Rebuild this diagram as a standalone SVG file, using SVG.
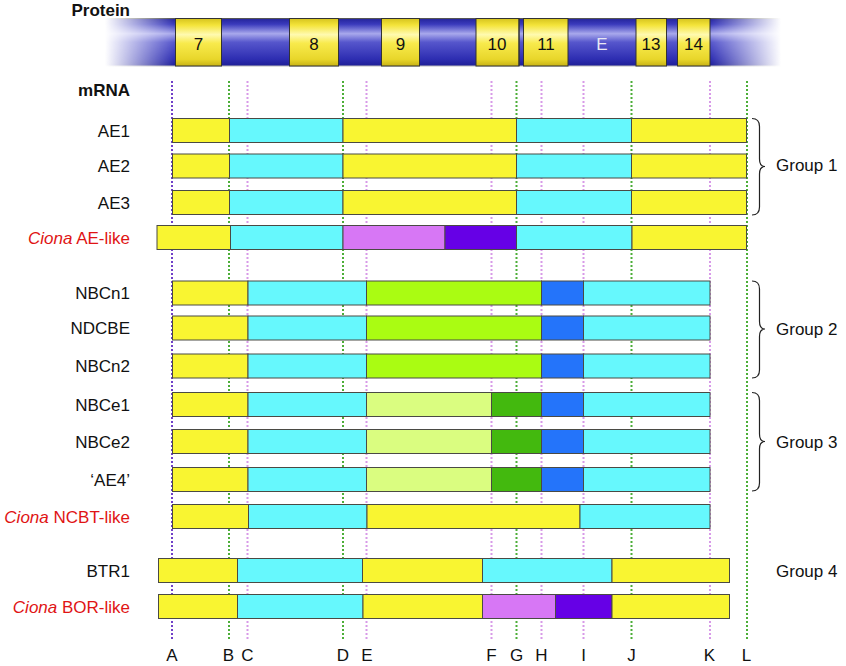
<svg xmlns="http://www.w3.org/2000/svg" width="846" height="666" viewBox="0 0 846 666">
<style>
text{font-family:"Liberation Sans",Arial,sans-serif;font-size:17px;fill:#111}
.lbl{text-anchor:end}
.red{fill:#e01414}
.bold{font-weight:bold}
.ctr{text-anchor:middle}
.seg{stroke:#4a4a44;stroke-width:1}
.y{fill:#f9f531}.c{fill:#66f8fd}.lp{fill:#d777f5}.dp{fill:#6600e6}
.g{fill:#aafc12}.b{fill:#2474fa}.lg{fill:#dafd80}.dg{fill:#43b90e}
.vl{fill:none;stroke-width:2;stroke-dasharray:2 2}
.vg{stroke:#4cae38}.vp{stroke:#d89ae8}.va{stroke:#7040c8}
.brace{fill:none;stroke:#222;stroke-width:1.2}
.ps{stroke:#333;stroke-width:1}
</style>
<defs>
<linearGradient id="blueV" x1="0" y1="0" x2="0" y2="1">
<stop offset="0" stop-color="#24249a"/>
<stop offset="0.12" stop-color="#3a3abc"/>
<stop offset="0.32" stop-color="#a8a8ec"/>
<stop offset="0.5" stop-color="#5656cc"/>
<stop offset="0.85" stop-color="#2e2eb2"/>
<stop offset="1" stop-color="#1e1e96"/>
</linearGradient>
<linearGradient id="yelV" x1="0" y1="0" x2="0" y2="1">
<stop offset="0" stop-color="#d6c41e"/>
<stop offset="0.14" stop-color="#f4e43a"/>
<stop offset="0.34" stop-color="#fffab0"/>
<stop offset="0.52" stop-color="#f8ea4c"/>
<stop offset="0.86" stop-color="#e8d62a"/>
<stop offset="1" stop-color="#c8b216"/>
</linearGradient>
<linearGradient id="fadeH" x1="0" y1="0" x2="1" y2="0">
<stop offset="0" stop-color="#000"/>
<stop offset="0.1036" stop-color="#fff"/>
<stop offset="0.895" stop-color="#fff"/>
<stop offset="1" stop-color="#000"/>
</linearGradient>
<mask id="fade" maskUnits="userSpaceOnUse" x="100" y="10" width="690" height="60">
<rect x="105" y="10" width="676" height="60" fill="url(#fadeH)"/>
</mask>
</defs>
<rect width="846" height="666" fill="#fff"/>

<g id="protein">
<text x="130" y="16" class="lbl bold">Protein</text>
<g mask="url(#fade)">
<rect x="105" y="18.5" width="676" height="47.5" fill="url(#blueV)"/>
<line x1="105" y1="18.5" x2="781" y2="18.5" stroke="#555" stroke-width="1"/>
<line x1="105" y1="66" x2="781" y2="66" stroke="#bbb" stroke-width="1"/>
</g>
<g class="ps">
<rect x="175.5" y="18.5" width="46" height="47.5" fill="url(#yelV)"/>
<rect x="289.5" y="18.5" width="49" height="47.5" fill="url(#yelV)"/>
<rect x="381.5" y="18.5" width="38" height="47.5" fill="url(#yelV)"/>
<rect x="476" y="18.5" width="43" height="47.5" fill="url(#yelV)"/>
<rect x="523.5" y="18.5" width="44.5" height="47.5" fill="url(#yelV)"/>
<rect x="636" y="18.5" width="30.5" height="47.5" fill="url(#yelV)"/>
<rect x="677.5" y="18.5" width="32.5" height="47.5" fill="url(#yelV)"/>
<line x1="519" y1="18.5" x2="519" y2="66"/>
<line x1="523.5" y1="18.5" x2="523.5" y2="66"/>
</g>
<text x="198.5" y="50" class="ctr">7</text>
<text x="314" y="50" class="ctr">8</text>
<text x="400.5" y="50" class="ctr">9</text>
<text x="497" y="50" class="ctr">10</text>
<text x="546" y="50" class="ctr">11</text>
<text x="602" y="50" class="ctr" style="fill:#e8e8f4">E</text>
<text x="651" y="50" class="ctr">13</text>
<text x="693.5" y="50" class="ctr">14</text>
</g>

<text x="130" y="96" class="lbl bold">mRNA</text>

<g id="guides">
<line class="vl va" x1="172" y1="81" x2="172" y2="640"/>
<line class="vl vg" x1="229" y1="81" x2="229" y2="640"/>
<line class="vl vp" x1="247.5" y1="81" x2="247.5" y2="640"/>
<line class="vl vg" x1="343" y1="81" x2="343" y2="640"/>
<line class="vl vp" x1="366.5" y1="81" x2="366.5" y2="640"/>
<line class="vl vp" x1="491.5" y1="81" x2="491.5" y2="640"/>
<line class="vl vg" x1="516.5" y1="81" x2="516.5" y2="640"/>
<line class="vl vp" x1="541.5" y1="81" x2="541.5" y2="640"/>
<line class="vl vp" x1="583.5" y1="81" x2="583.5" y2="640"/>
<line class="vl vg" x1="631.5" y1="81" x2="631.5" y2="640"/>
<line class="vl vp" x1="710" y1="81" x2="710" y2="640"/>
<line class="vl vg" x1="747" y1="81" x2="747" y2="640"/>
</g>

<g id="AE1">
<text x="130" y="136.5" class="lbl">AE1</text>
<g class="seg"><rect class="y" x="172.5" y="118.5" width="57" height="24"/><rect class="c" x="229.5" y="118.5" width="113.5" height="24"/><rect class="y" x="343" y="118.5" width="173.5" height="24"/><rect class="c" x="516.5" y="118.5" width="115" height="24"/><rect class="y" x="631.5" y="118.5" width="115" height="24"/></g>
</g>
<g id="AE2">
<text x="130" y="172" class="lbl">AE2</text>
<g class="seg"><rect class="y" x="172.5" y="154" width="57" height="24"/><rect class="c" x="229.5" y="154" width="113.5" height="24"/><rect class="y" x="343" y="154" width="173.5" height="24"/><rect class="c" x="516.5" y="154" width="115" height="24"/><rect class="y" x="631.5" y="154" width="115" height="24"/></g>
</g>
<g id="AE3">
<text x="130" y="208.5" class="lbl">AE3</text>
<g class="seg"><rect class="y" x="172.5" y="190.5" width="57" height="24"/><rect class="c" x="229.5" y="190.5" width="113.5" height="24"/><rect class="y" x="343" y="190.5" width="173.5" height="24"/><rect class="c" x="516.5" y="190.5" width="115" height="24"/><rect class="y" x="631.5" y="190.5" width="115" height="24"/></g>
</g>
<g id="CionaAE">
<text x="130" y="243.5" class="lbl red"><tspan font-style="italic" class="red">Ciona</tspan> AE-like</text>
<g class="seg"><rect class="y" x="157" y="225.5" width="73.5" height="24"/><rect class="c" x="230.5" y="225.5" width="112.5" height="24"/><rect class="lp" x="343" y="225.5" width="102" height="24"/><rect class="dp" x="445" y="225.5" width="71.5" height="24"/><rect class="c" x="516.5" y="225.5" width="115.5" height="24"/><rect class="y" x="632" y="225.5" width="114.5" height="24"/></g>
</g>

<g id="NBCn1">
<text x="130" y="299" class="lbl">NBCn1</text>
<g class="seg"><rect class="y" x="172.5" y="281" width="75.5" height="24"/><rect class="c" x="248" y="281" width="118.5" height="24"/><rect class="g" x="366.5" y="281" width="175" height="24"/><rect class="b" x="541.5" y="281" width="42" height="24"/><rect class="c" x="583.5" y="281" width="126.5" height="24"/></g>
</g>
<g id="NDCBE">
<text x="130" y="334" class="lbl">NDCBE</text>
<g class="seg"><rect class="y" x="172.5" y="316" width="75.5" height="24"/><rect class="c" x="248" y="316" width="118.5" height="24"/><rect class="g" x="366.5" y="316" width="175" height="24"/><rect class="b" x="541.5" y="316" width="42" height="24"/><rect class="c" x="583.5" y="316" width="126.5" height="24"/></g>
</g>
<g id="NBCn2">
<text x="130" y="372" class="lbl">NBCn2</text>
<g class="seg"><rect class="y" x="172.5" y="354" width="75.5" height="24"/><rect class="c" x="248" y="354" width="118.5" height="24"/><rect class="g" x="366.5" y="354" width="175" height="24"/><rect class="b" x="541.5" y="354" width="42" height="24"/><rect class="c" x="583.5" y="354" width="126.5" height="24"/></g>
</g>
<g id="NBCe1">
<text x="130" y="410.5" class="lbl">NBCe1</text>
<g class="seg"><rect class="y" x="172.5" y="392.5" width="75.5" height="24"/><rect class="c" x="248" y="392.5" width="118.5" height="24"/><rect class="lg" x="366.5" y="392.5" width="125" height="24"/><rect class="dg" x="491.5" y="392.5" width="50" height="24"/><rect class="b" x="541.5" y="392.5" width="42" height="24"/><rect class="c" x="583.5" y="392.5" width="126.5" height="24"/></g>
</g>
<g id="NBCe2">
<text x="130" y="447.5" class="lbl">NBCe2</text>
<g class="seg"><rect class="y" x="172.5" y="429.5" width="75.5" height="24"/><rect class="c" x="248" y="429.5" width="118.5" height="24"/><rect class="lg" x="366.5" y="429.5" width="125" height="24"/><rect class="dg" x="491.5" y="429.5" width="50" height="24"/><rect class="b" x="541.5" y="429.5" width="42" height="24"/><rect class="c" x="583.5" y="429.5" width="126.5" height="24"/></g>
</g>
<g id="AE4">
<text x="130" y="485.5" class="lbl">‘AE4’</text>
<g class="seg"><rect class="y" x="172.5" y="467.5" width="75.5" height="24"/><rect class="c" x="248" y="467.5" width="118.5" height="24"/><rect class="lg" x="366.5" y="467.5" width="125" height="24"/><rect class="dg" x="491.5" y="467.5" width="50" height="24"/><rect class="b" x="541.5" y="467.5" width="42" height="24"/><rect class="c" x="583.5" y="467.5" width="126.5" height="24"/></g>
</g>
<g id="CionaNCBT">
<text x="130" y="522.5" class="lbl red"><tspan font-style="italic" class="red">Ciona</tspan> NCBT-like</text>
<g class="seg"><rect class="y" x="172.5" y="504.5" width="76" height="24"/><rect class="c" x="248.5" y="504.5" width="118.5" height="24"/><rect class="y" x="367" y="504.5" width="213" height="24"/><rect class="c" x="580" y="504.5" width="130" height="24"/></g>
</g>

<g id="BTR1">
<text x="130" y="576.5" class="lbl">BTR1</text>
<g class="seg"><rect class="y" x="158.5" y="558.5" width="79" height="24"/><rect class="c" x="237.5" y="558.5" width="125" height="24"/><rect class="y" x="362.5" y="558.5" width="120" height="24"/><rect class="c" x="482.5" y="558.5" width="129.5" height="24"/><rect class="y" x="612" y="558.5" width="117.5" height="24"/></g>
</g>
<g id="CionaBOR">
<text x="130" y="612.5" class="lbl red"><tspan font-style="italic" class="red">Ciona</tspan> BOR-like</text>
<g class="seg"><rect class="y" x="158.5" y="594.5" width="79" height="24"/><rect class="c" x="237.5" y="594.5" width="125.5" height="24"/><rect class="y" x="363" y="594.5" width="119.5" height="24"/><rect class="lp" x="482.5" y="594.5" width="73" height="24"/><rect class="dp" x="555.5" y="594.5" width="56.5" height="24"/><rect class="y" x="612" y="594.5" width="117.5" height="24"/></g>
</g>

<g id="braces">
<path class="brace" d="M752,118.5 Q759.5,118.5 759.5,126.5 L759.5,159 Q759.5,166.5 765,166.5 Q759.5,166.5 759.5,174 L759.5,207 Q759.5,215 752,215"/>
<path class="brace" d="M752,281 Q759.5,281 759.5,289 L759.5,321.5 Q759.5,329 765,329 Q759.5,329 759.5,336.5 L759.5,370 Q759.5,378 752,378"/>
<path class="brace" d="M752,392.5 Q759.5,392.5 759.5,400.5 L759.5,434 Q759.5,441.5 765,441.5 Q759.5,441.5 759.5,449 L759.5,483 Q759.5,491 752,491"/>
</g>
<g id="groups">
<text x="776" y="171">Group 1</text>
<text x="776" y="335">Group 2</text>
<text x="776" y="448">Group 3</text>
<text x="776" y="576.5">Group 4</text>
</g>

<g id="letters" class="ctr">
<text x="172" y="661" class="ctr">A</text>
<text x="228.5" y="661" class="ctr">B</text>
<text x="247.5" y="661" class="ctr">C</text>
<text x="343" y="661" class="ctr">D</text>
<text x="367" y="661" class="ctr">E</text>
<text x="491.5" y="661" class="ctr">F</text>
<text x="516.5" y="661" class="ctr">G</text>
<text x="541.5" y="661" class="ctr">H</text>
<text x="583.5" y="661" class="ctr">I</text>
<text x="631.5" y="661" class="ctr">J</text>
<text x="709.5" y="661" class="ctr">K</text>
<text x="746.5" y="661" class="ctr">L</text>
</g>
</svg>
